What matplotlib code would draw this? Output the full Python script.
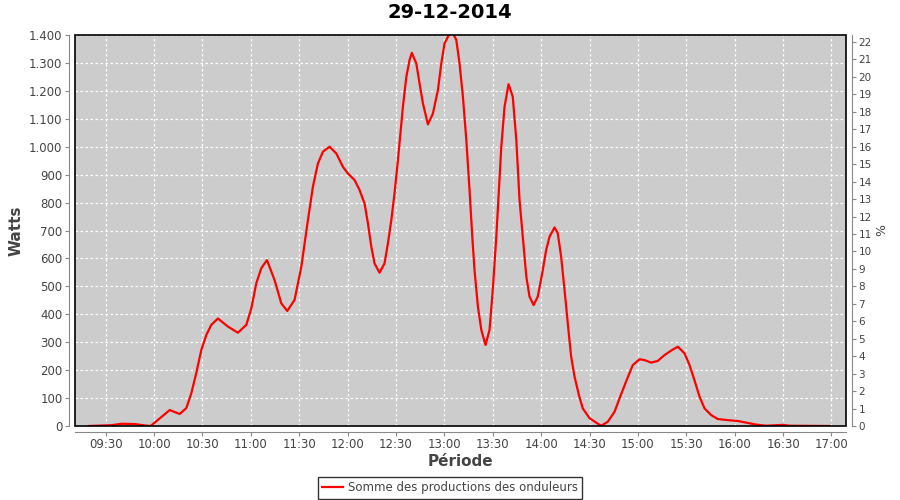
import matplotlib.pyplot as plt
from matplotlib.patches import Rectangle
from matplotlib.ticker import FixedLocator, FuncFormatter

# minutes depuis minuit / puissance (W)
minutes = [559.5, 573.7, 579.9, 588.0, 594.2, 597.9, 609.7, 615.9, 620.0, 623.1,
           626.2, 629.3, 632.4, 635.5, 639.6, 645.8, 652.0, 657.2, 660.3, 663.4,
           666.5, 670.0, 674.7, 678.9, 682.6, 687.1, 691.3, 695.4, 698.5, 701.6,
           704.7, 708.8, 713.0, 717.1, 720.2, 724.3, 727.4, 730.5, 732.6, 734.7,
           736.7, 739.8, 742.9, 745.0, 747.1, 749.1, 751.2, 754.3, 756.4, 758.4,
           759.8, 762.6, 764.6, 766.7, 769.8, 772.9, 776.0, 778.1, 780.1, 783.2,
           785.0, 787.4, 789.4, 791.5, 793.6, 795.6, 797.3, 798.7, 800.8, 802.9,
           805.5, 808.0, 810.0, 812.2, 813.8, 815.3, 817.3, 819.8, 822.4, 824.6,
           826.6, 828.6, 830.8, 832.8, 835.3, 837.9, 841.0, 843.1, 845.2, 848.3,
           850.3, 852.4, 854.5, 856.5, 858.6, 860.7, 863.4, 865.8, 870.0, 874.1,
           877.2, 881.3, 885.5, 888.6, 892.7, 896.8, 901.0, 904.1, 908.2, 912.3,
           916.5, 920.6, 924.7, 928.9, 932.0, 935.0, 938.2, 941.3, 945.4, 949.5,
           955.7, 961.9, 967.1, 973.3, 979.5, 989.8, 994.0, 1018.7]
watts = [0, 3, 8, 7, 2, 0, 57, 43, 64, 117,
         190, 272, 326, 362, 385, 356, 334, 362, 421, 511,
         565, 594, 523, 439, 412, 451, 570, 737, 857, 940,
         982, 1000, 976, 928, 904, 881, 845, 797, 726, 642,
         582, 549, 582, 654, 737, 833, 952, 1143, 1250, 1310,
         1336, 1298, 1227, 1155, 1080, 1119, 1203, 1298, 1370, 1405,
         1410, 1382, 1298, 1179, 1024, 845, 678, 558, 427, 344,
         290, 344, 487, 678, 845, 1000, 1143, 1224, 1179, 1024,
         809, 678, 535, 463, 433, 463, 558, 630, 678, 711,
         690, 606, 487, 368, 248, 177, 111, 63, 28, 12,
         1, 15, 51, 99, 160, 218, 239, 236, 227, 233,
         254, 270, 284, 260, 218, 165, 105, 63, 39, 25,
         21, 18, 12, 5, 1, 4, 1, 0]

x_ticks = list(range(570, 1021, 30))  # 09:30 -> 17:00
y_ticks = list(range(0, 1401, 100))
pct_ticks = list(range(0, 23))

titre = "29-12-2014"
serie = "Somme des productions des onduleurs"

gris = "#444444"
axe = "#888888"

fig = plt.figure(figsize=(9, 5), dpi=100)
ax = fig.add_axes([75 / 900, 1 - 426 / 500, 771 / 900, 391 / 500])
ax.set_facecolor("#cccccc")

ax.plot(minutes, watts, color="red", lw=1.6, label=serie, zorder=3)

ax.set_xlim(551, 1029)
ax.set_ylim(0, 1400)

ax.xaxis.set_major_locator(FixedLocator(x_ticks))
ax.xaxis.set_major_formatter(FuncFormatter(lambda v, p: "%02d:%02d" % (v // 60, v % 60)))
ax.yaxis.set_major_locator(FixedLocator(y_ticks))
ax.yaxis.set_major_formatter(FuncFormatter(lambda v, p: "{:,.0f}".format(v).replace(",", ".")))

ax.grid(True, color="white", ls=(0, (2, 2)), lw=0.9)
ax.set_axisbelow(True)

for s in ["top", "right"]:
    ax.spines[s].set_visible(False)
for s in ["left", "bottom"]:
    ax.spines[s].set_position(("outward", 4))
    ax.spines[s].set_color(axe)
ax.add_patch(Rectangle((0, 0), 1, 1, transform=ax.transAxes, fill=False,
                       ec="black", lw=1.2, zorder=5, clip_on=False))
ax.tick_params(axis="both", direction="out", length=3, color=axe,
               labelcolor=gris, labelsize=8.5)
ax.tick_params(axis="x", pad=1.5)
ax.tick_params(axis="y", pad=2)

ax.set_ylabel("Watts", fontsize=11, fontweight="bold", color=gris, labelpad=4)
ax.set_xlabel("Période", fontsize=11, fontweight="bold", color=gris, labelpad=2)

# axe de droite en %
ax2 = ax.twinx()
ax2.set_ylim(0, 22.4)
ax2.yaxis.set_major_locator(FixedLocator(pct_ticks))
for s in ["top", "left", "bottom"]:
    ax2.spines[s].set_visible(False)
ax2.spines["right"].set_position(("outward", 4))
ax2.spines["right"].set_color(axe)
ax2.tick_params(axis="y", direction="out", length=3, color=axe,
                labelcolor=gris, labelsize=7.5, pad=2)
ax2.set_ylabel("%", fontsize=9, color=gris, rotation=270, labelpad=9)

fig.suptitle(titre, x=0.5, y=0.993, fontsize=14, fontweight="bold", va="top")

leg = fig.legend(loc="center", bbox_to_anchor=(0.5, 1 - 488 / 500), frameon=True,
                 fancybox=False, fontsize=8.5, handlelength=1.8, handletextpad=0.4,
                 borderpad=0.35, labelcolor=gris)
leg.get_frame().set_edgecolor("black")
leg.get_frame().set_linewidth(1.0)

fig.savefig("out.png", dpi=100)
